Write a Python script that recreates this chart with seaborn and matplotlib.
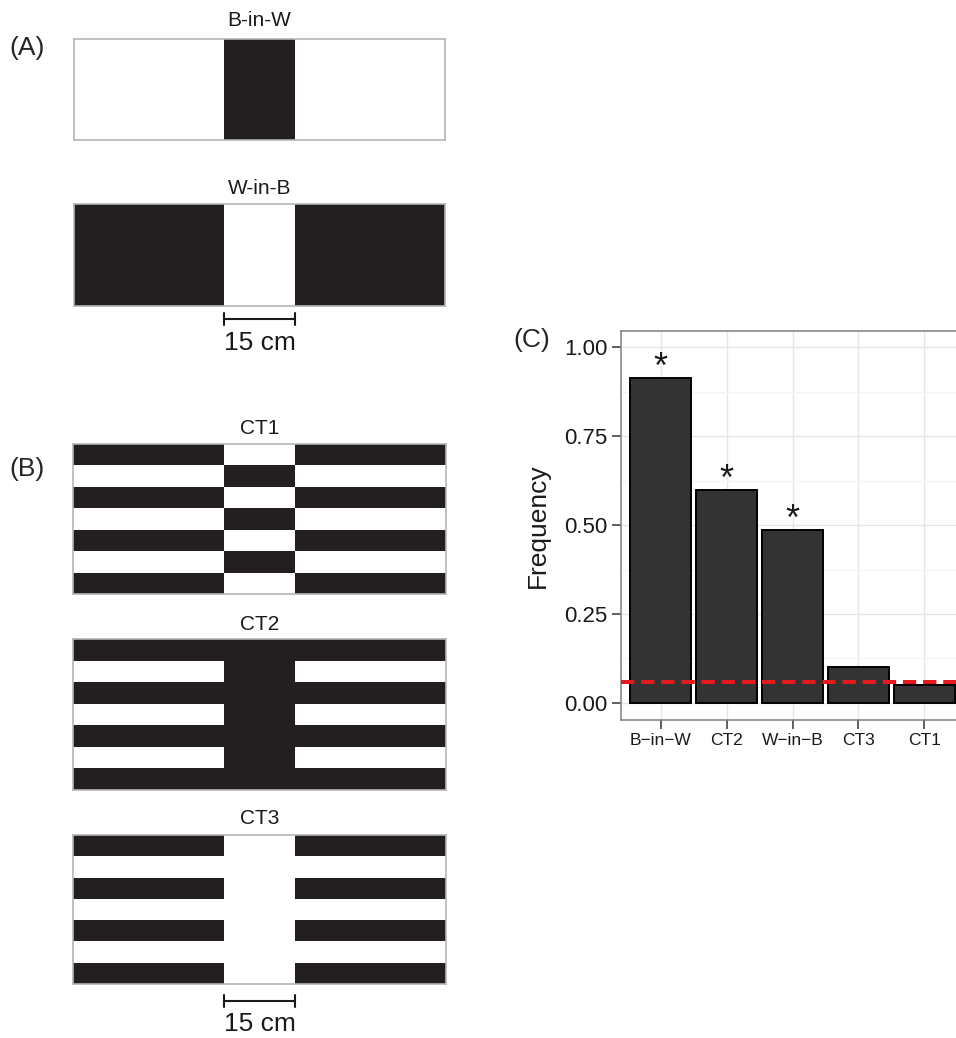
import numpy as np
import pandas as pd
import matplotlib
matplotlib.use("Agg")
import matplotlib.pyplot as plt
from matplotlib.colors import ListedColormap
import seaborn as sns

sns.set_style("white")
plt.rcParams['font.family'] = ['Liberation Sans', 'DejaVu Sans']

#stimulus layout (cm): outer panel, 15 cm centre strip, outer panel
col_edges_cm = [0, 32, 47, 79]

#stimulus patterns, 1 = black, 0 = white (columns: left, centre, right)
b_in_w = [[0, 1, 0]]
w_in_b = [[1, 0, 1]]
ct1 = [[1, 0, 1], [0, 1, 0], [1, 0, 1], [0, 1, 0], [1, 0, 1], [0, 1, 0], [1, 0, 1]]
ct2 = [[1, 1, 1], [0, 1, 0], [1, 1, 1], [0, 1, 0], [1, 1, 1], [0, 1, 0], [1, 1, 1]]
ct3 = [[1, 0, 1], [0, 0, 0], [1, 0, 1], [0, 0, 0], [1, 0, 1], [0, 0, 0], [1, 0, 1]]

#panel C data
stimuli = ["B-in-W", "CT2", "W-in-B", "CT3", "CT1"]
tick_labels = ["B\u2212in\u2212W", "CT2", "W\u2212in\u2212B", "CT3", "CT1"]
frequency = [0.913, 0.600, 0.486, 0.100, 0.050]
significant = [True, True, True, False, False]
chance_level = 0.06

BLACK = "#231f20"
W, H = 956, 1038
fig = plt.figure(figsize=(W / 100, H / 100), dpi=100)


def px_axes(x0, y0, x1, y1):
    return fig.add_axes([x0 / W, 1 - y1 / H, (x1 - x0) / W, (y1 - y0) / H])


def draw_stimulus(box, pattern, name, title_gap):
    ax = px_axes(*box)
    pat = np.array(pattern)
    ax.pcolormesh(col_edges_cm, np.arange(pat.shape[0] + 1), pat,
                  cmap=ListedColormap(["white", BLACK]), vmin=0, vmax=1)
    ax.set_xlim(col_edges_cm[0], col_edges_cm[-1])
    ax.set_ylim(pat.shape[0], 0)
    ax.set_xticks([])
    ax.set_yticks([])
    for s in ax.spines.values():
        s.set_color("#b5b5b5")
        s.set_linewidth(1.2)
    ax.annotate(name, xy=(0.5, 1), xycoords="axes fraction",
                xytext=(0, title_gap), textcoords="offset pixels",
                ha="center", va="center", fontsize=15, color="#1a1a1a")
    return ax


def scale_bar(ax, bar_px, text_px):
    trans = ax.get_xaxis_transform()
    h = ax.bbox.height
    yb = -bar_px / h
    ax.plot([col_edges_cm[1], col_edges_cm[2]], [yb, yb], color="#1a1a1a",
            lw=1.5, transform=trans, clip_on=False)
    for xe in col_edges_cm[1:3]:
        ax.plot([xe, xe], [yb - 6 / h, yb + 6 / h], color="#1a1a1a",
                lw=1.5, transform=trans, clip_on=False)
    ax.text(np.mean(col_edges_cm[1:3]), -text_px / h, "15 cm", transform=trans,
            ha="center", va="center", fontsize=19, color="#1a1a1a")


#panel A
draw_stimulus((74, 39, 445, 140), b_in_w, "B-in-W", 19)
ax_a2 = draw_stimulus((74, 204, 445, 306), w_in_b, "W-in-B", 16)
scale_bar(ax_a2, 13, 37)

#panel B
draw_stimulus((73, 444, 446, 594), ct1, "CT1", 15)
draw_stimulus((73, 639, 446, 790), ct2, "CT2", 15)
ax_b3 = draw_stimulus((73, 835, 446, 984), ct3, "CT3", 17)
scale_bar(ax_b3, 17, 40)

#panel C
data = pd.DataFrame({"stimulus": stimuli, "frequency": frequency})
axc = px_axes(621, 331, 964, 720)
axc.set_axisbelow(True)
sns.barplot(x="stimulus", y="frequency", data=data, order=stimuli, color="#333333",
            saturation=1, edgecolor="black", linewidth=1.4, width=0.92, ax=axc)
axc.axhline(chance_level, color="#e41a1c", lw=2.9, ls=(0, (3.3, 1.7)), zorder=5)
for i, (f, sig) in enumerate(zip(frequency, significant)):
    if sig:
        axc.annotate("*", xy=(i, f), xytext=(0, 0), textcoords="offset pixels",
                     ha="center", va="baseline", fontsize=26, color="#1a1a1a")

axc.set_xlim(-0.6, len(stimuli) - 0.4)
axc.set_ylim(-0.048, 1.046)
axc.set_yticks([0, 0.25, 0.5, 0.75, 1.0])
axc.set_yticklabels(["0.00", "0.25", "0.50", "0.75", "1.00"], fontsize=16, color="#1a1a1a")
axc.set_yticks([0.125, 0.375, 0.625, 0.875], minor=True)
axc.set_xticks(range(len(stimuli)))
axc.set_xticklabels(tick_labels, fontsize=12.5, color="#1a1a1a")
axc.grid(True, which="major", color="#e6e6e6", lw=1)
axc.grid(True, which="minor", axis="y", color="#f4f4f4", lw=1)
axc.tick_params(axis="both", which="major", direction="out", length=6.5, width=1.1,
                color="#333333", left=True, bottom=True, pad=3)
axc.tick_params(axis="y", which="minor", length=0)
axc.set_xlabel("")
axc.set_ylabel("Frequency", fontsize=19, color="#1a1a1a")
axc.yaxis.set_label_coords(-0.207, 0.5)
for s in axc.spines.values():
    s.set_color("#7f7f7f")
    s.set_linewidth(1.1)
axc.spines["right"].set_visible(False)

#panel letters
fig.text(27 / W, 1 - 48.5 / H, "(A)", ha="center", va="center", fontsize=19)
fig.text(27 / W, 1 - 469 / H, "(B)", ha="center", va="center", fontsize=19)
fig.text(532 / W, 1 - 340 / H, "(C)", ha="center", va="center", fontsize=19)

fig.savefig("out.png", dpi=100)
